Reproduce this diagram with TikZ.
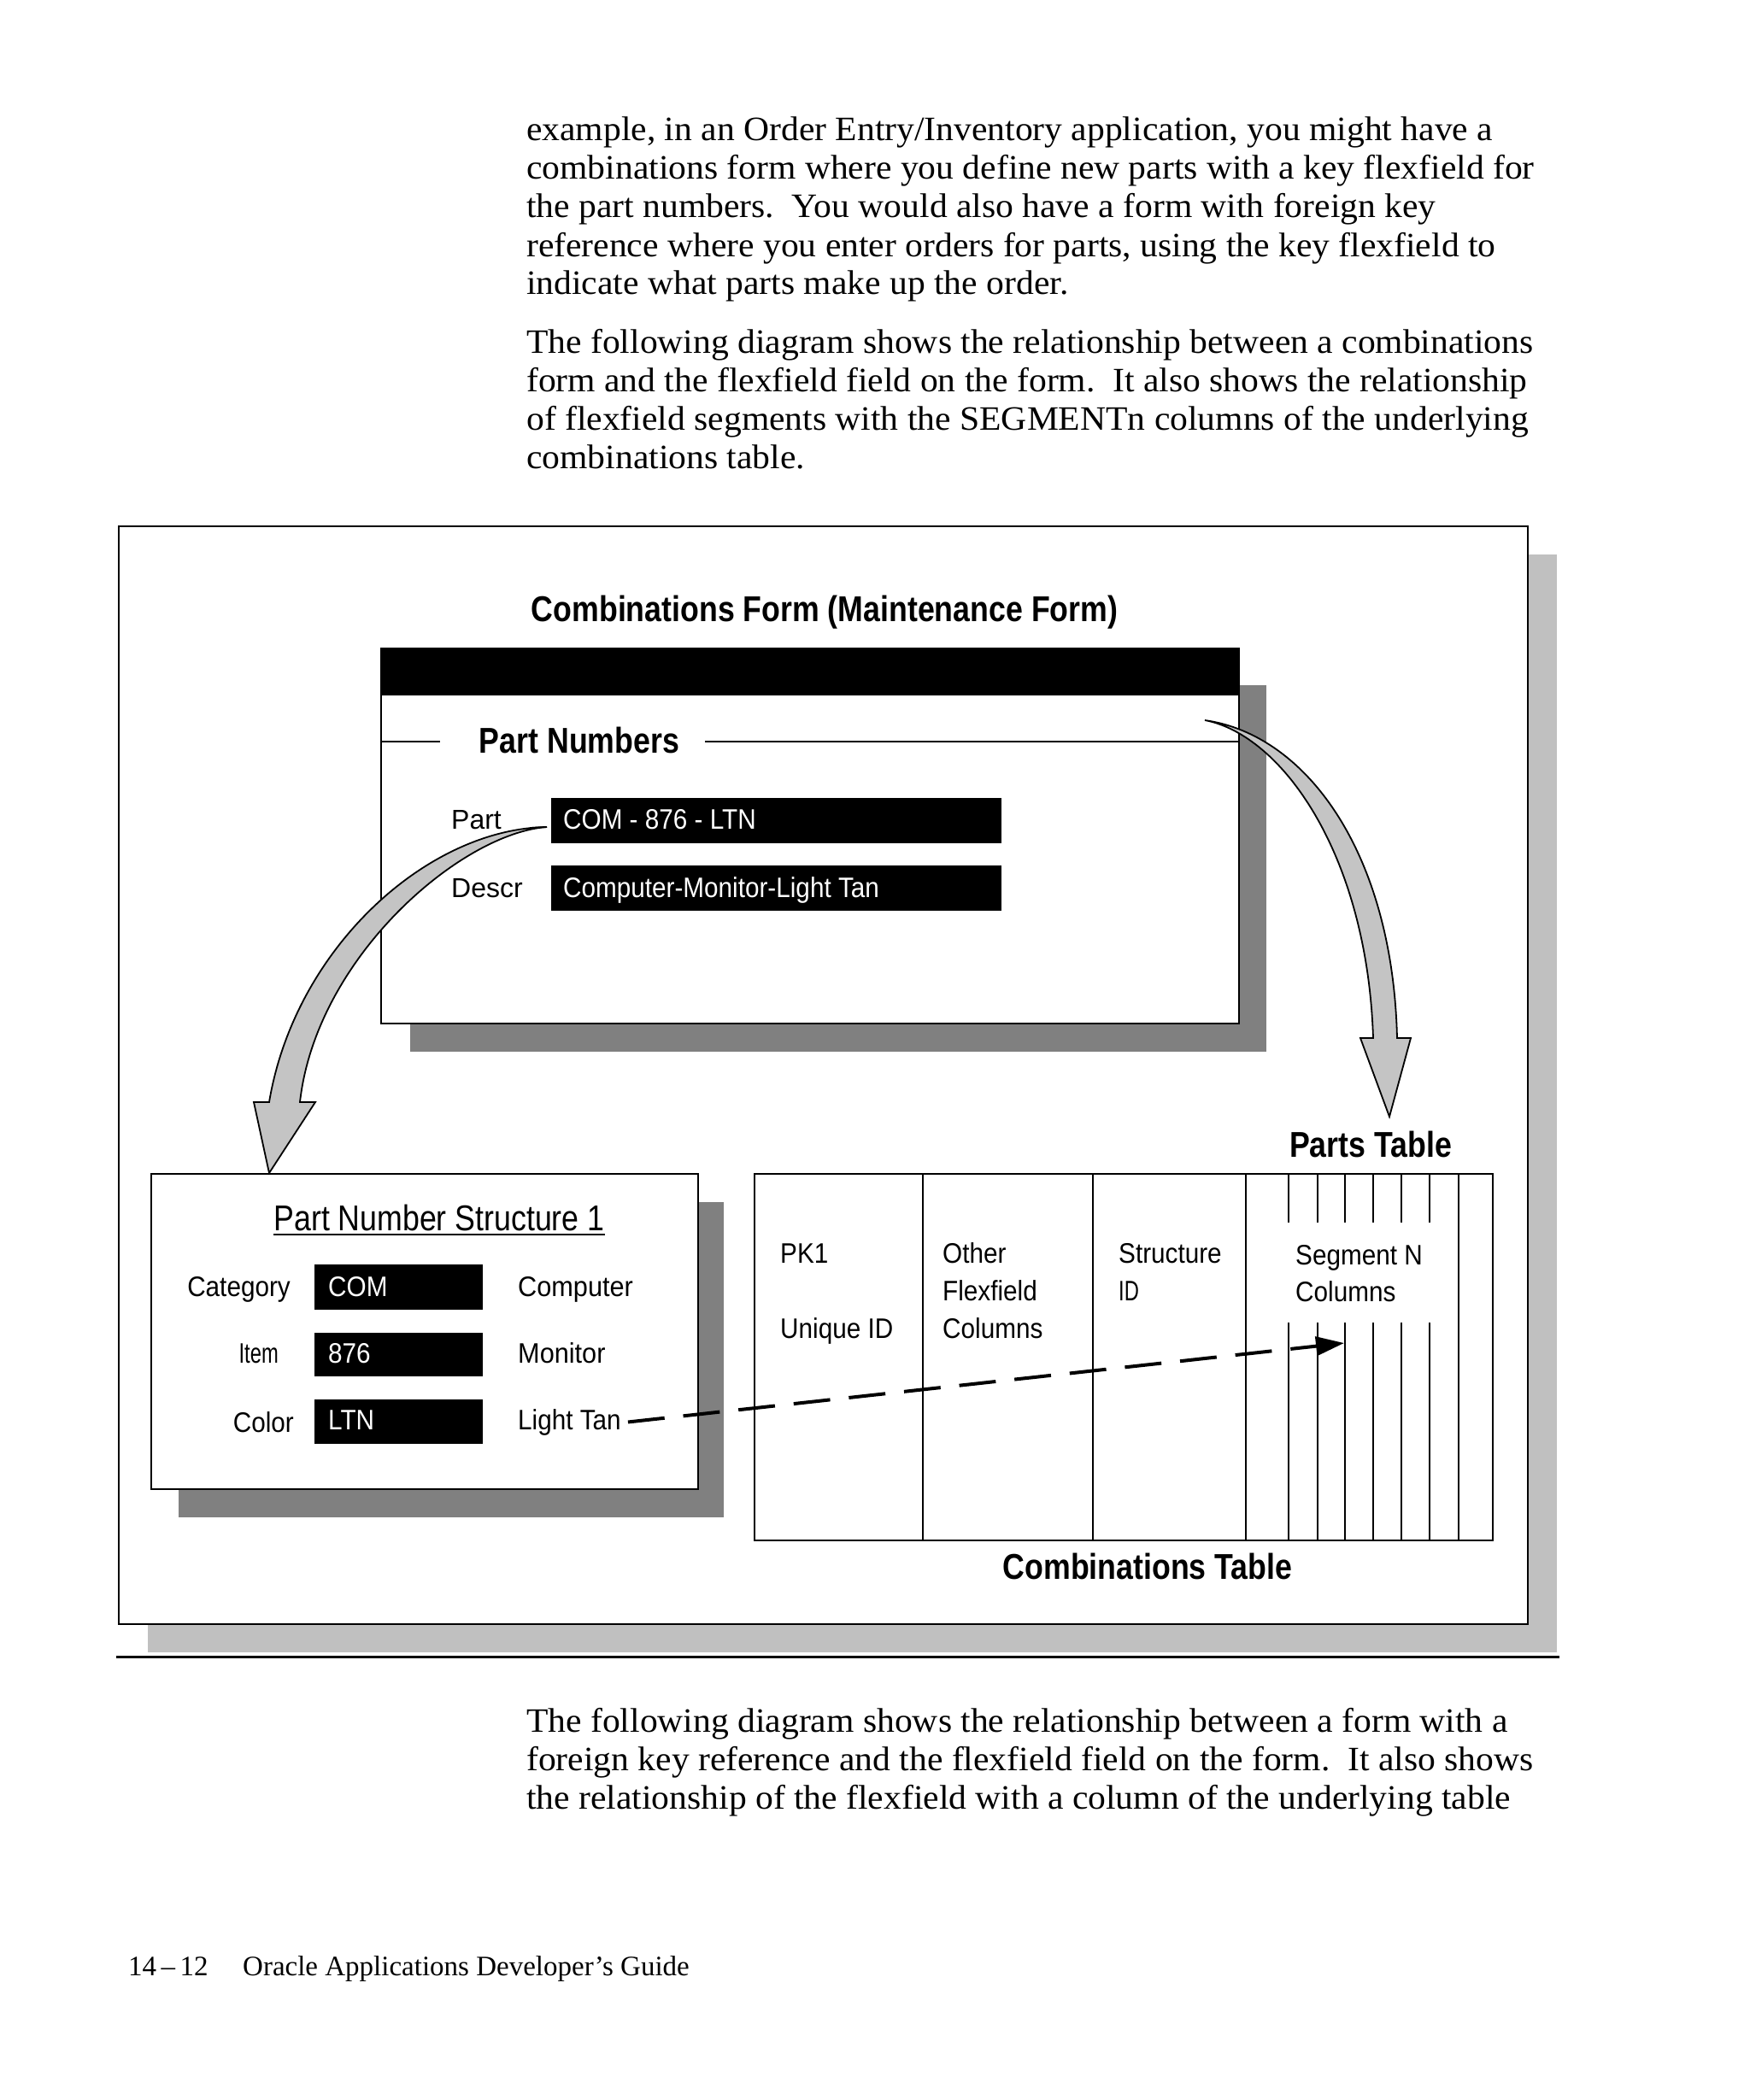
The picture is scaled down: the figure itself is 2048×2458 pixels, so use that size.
\documentclass[tikz,border=0pt]{standalone}
\usepackage{fontspec}
\usetikzlibrary{arrows.meta}
\newfontfamily\bodyfont[FakeStretch=1.04]{Liberation Serif}
\newfontfamily\footfont[FakeStretch=1.0]{Liberation Serif}
\newfontfamily\labfont[FakeStretch=0.9]{Liberation Sans}
\newfontfamily\widelabfont[FakeStretch=0.93]{Liberation Sans}
\newfontfamily\regfont{Liberation Sans}
\newfontfamily\narrowfont[FakeStretch=0.85]{Liberation Sans}
\newfontfamily\itemfont[FakeStretch=0.72]{Liberation Sans}
\definecolor{lightshadow}{HTML}{C0C0C0}
\definecolor{darkshadow}{HTML}{808080}
\definecolor{arrowfill}{HTML}{C4C4C4}
\tikzset{
  body/.style={font=\bodyfont\fontsize{40}{45}\selectfont, anchor=base west, inner sep=0pt},
  foot/.style={font=\footfont\fontsize{33}{38}\selectfont, anchor=base west, inner sep=0pt},
  lab/.style={font=\labfont\fontsize{33}{40}\selectfont, inner sep=0pt},
  widelab/.style={font=\widelabfont\fontsize{33}{40}\selectfont, inner sep=0pt},
  reglab/.style={font=\regfont\fontsize{32}{40}\selectfont, inner sep=0pt},
  wlab/.style={lab, text=white, anchor=base west},
  ttl/.style={font=\narrowfont\bfseries\fontsize{42}{48}\selectfont, inner sep=0pt, anchor=base},
  frame/.style={draw=black, line width=2.4pt, fill=white},
  field/.style={fill=black},
  tline/.style={line width=2.6pt},
  blockarrow/.style={fill=arrowfill, draw=black, line width=1.8pt, line join=miter},
  dasharrow/.style={line width=4pt, dash pattern=on 43pt off 22pt, -{Triangle[length=33pt,width=22pt]}}
}
\begin{document}
\begin{tikzpicture}[x=1pt,y=-1pt]
\useasboundingbox[fill=white] (0,0) rectangle (2048,2458);

% ---- body text ----
\node[body] (p1a) at (616,164) {example, in an Order Entry/Inventory application, you might have a};
\node[body] (p1b) at (616,209) {combinations form where you define new parts with a key flexfield for};
\node[body] (p1c) at (616,254) {the part numbers.\ \ You would also have a form with foreign key};
\node[body] (p1d) at (616,300) {reference where you enter orders for parts, using the key flexfield to};
\node[body] (p1e) at (616,344) {indicate what parts make up the order.};
\node[body] (p2a) at (616,413) {The following diagram shows the relationship between a combinations};
\node[body] (p2b) at (616,458) {form and the flexfield field on the form.\ \ It also shows the relationship};
\node[body] (p2c) at (616,503) {of flexfield segments with the SEGMENTn columns of the underlying};
\node[body] (p2d) at (616,548) {combinations table.};
\node[body] (p3a) at (616,2027) {The following diagram shows the relationship between a form with a};
\node[body] (p3b) at (616,2072) {foreign key reference and the flexfield field on the form.\ \ It also shows};
\node[body] (p3c) at (616,2117) {the relationship of the flexfield with a column of the underlying table};
\node[foot] (pg) at (150,2312) {14\,–\,12};
\node[foot] (guide) at (284,2312) {Oracle Applications Developer’s Guide};

% ---- outer frame ----
\fill[lightshadow] (173,649) rectangle (1822,1934);
\draw[frame] (139,616) rectangle (1788,1901);
\draw[line width=3pt] (136,1939) -- (1825,1939);

\node[ttl] (formtitle) at (965,727) {Combinations Form (Maintenance Form)};

% ---- combinations form ----
\fill[darkshadow] (480,802) rectangle (1482,1231);
\draw[frame] (446,759) rectangle (1450,1198);
\fill[black] (446,759) rectangle (1450,814);
\node[ttl] (pnum) at (678,881) {Part Numbers};
\draw[line width=2.4pt] (446,868) -- (515,868);
\draw[line width=2.4pt] (825,868) -- (1450,868);
\node[reglab, anchor=base west] (partlab) at (528,970) {Part};
\node[reglab, anchor=base west] (descrlab) at (528,1050) {Descr};
\fill[field] (645,934) rectangle (1172,987);
\fill[field] (645,1013) rectangle (1172,1066);
\node[wlab] (partval) at (659,970) {COM - 876 - LTN};
\node[wlab] (descrval) at (659,1050) {Computer-Monitor-Light Tan};

% ---- part number structure ----
\fill[darkshadow] (209,1407) rectangle (847,1776);
\draw[frame] (177,1374) rectangle (817,1743);
\node[font=\narrowfont\fontsize{42}{48}\selectfont, inner sep=0pt, anchor=base] (pns) at (514,1440) {Part Number Structure 1};
\draw[line width=2pt] ([yshift=-5pt]pns.base west) -- ([yshift=-5pt]pns.base east);
\node[lab, anchor=base east] (cat) at (340,1517) {Category};
\node[lab, anchor=base east, font=\itemfont\fontsize{33}{40}\selectfont] (item) at (326,1595) {Item};
\node[lab, anchor=base east] (color) at (344,1676) {Color};
\fill[field] (368,1480) rectangle (565,1533);
\fill[field] (368,1560) rectangle (565,1611);
\fill[field] (368,1638) rectangle (565,1690);
\node[wlab] (comv) at (384,1517) {COM};
\node[wlab] (itemv) at (384,1595) {876};
\node[wlab] (ltnv) at (384,1673) {LTN};
\node[widelab, anchor=base west] (comp) at (606,1517) {Computer};
\node[widelab, anchor=base west] (mon) at (606,1595) {Monitor};
\node[lab, anchor=base west] (lt) at (606,1673) {Light Tan};

% ---- combinations table ----
\draw[tline] (883,1374) rectangle (1747,1803);
\foreach \xx in {1080,1279,1458,1707} \draw[tline] (\xx,1374) -- (\xx,1803);
\foreach \xx in {1508,1542,1574,1607,1640,1673} {
  \draw[tline] (\xx,1374) -- (\xx,1431);
  \draw[tline] (\xx,1548) -- (\xx,1803);
}
\node[lab, anchor=base west] (pk) at (913,1478) {PK1};
\node[lab, anchor=base west] (uid) at (913,1566) {Unique ID};
\node[lab, anchor=base west] (oth1) at (1103,1478) {Other};
\node[lab, anchor=base west] (oth2) at (1103,1522) {Flexfield};
\node[lab, anchor=base west] (oth3) at (1103,1566) {Columns};
\node[lab, anchor=base west] (st1) at (1309,1478) {Structure};
\node[lab, anchor=base west, font=\itemfont\fontsize{33}{40}\selectfont] (st2) at (1309,1522) {ID};
\node[lab, anchor=base west] (sg1) at (1516,1480) {Segment N};
\node[lab, anchor=base west] (sg2) at (1516,1523) {Columns};
\node[ttl] (partstable) at (1604,1354) {Parts Table};
\node[ttl] (combtable) at (1343,1848) {Combinations Table};

% ---- dashed arrow ----
\coordinate (segtip) at (1573,1572);
\draw[dasharrow] ([xshift=8pt]lt.east) -- (segtip);

% ---- block arrows ----
\draw[blockarrow] (640,968) .. controls (500,970) and (345,1110) .. (315,1290)
  -- (297,1290) -- (315,1373) -- (369,1290) -- (351,1290)
  .. controls (370,1120) and (540,975) .. (640,968) -- cycle;
\draw[line width=1.8pt] (620,969) -- (640,968);
\draw[blockarrow] (1410,843) .. controls (1530,860) and (1630,1000) .. (1635,1215)
  -- (1651,1215) -- (1626,1307) -- (1592,1215) -- (1607,1215)
  .. controls (1600,1000) and (1500,860) .. (1410,843) -- cycle;
\end{tikzpicture}
\end{document}
